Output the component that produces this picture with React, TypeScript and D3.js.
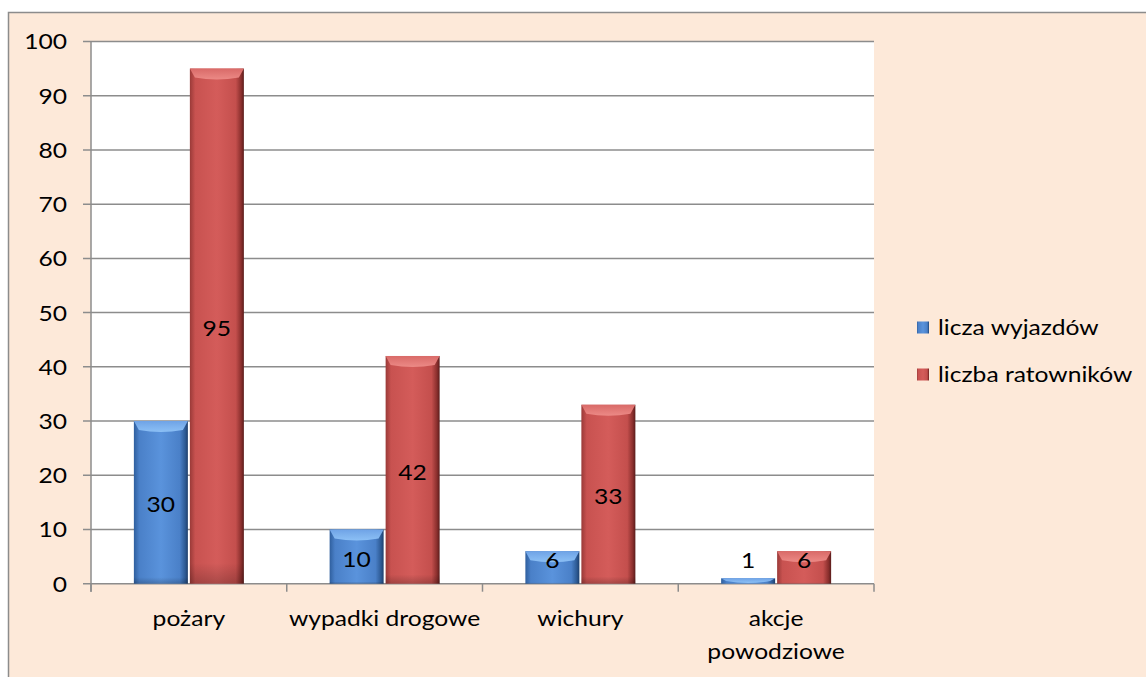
import React from "react";
import * as d3 from "d3";

const categories: string[][] = [["pożary"], ["wypadki drogowe"], ["wichury"], ["akcje", "powodziowe"]];
const seriesNames = ["licza wyjazdów", "liczba ratowników"];
const wyjazdy = [30, 10, 6, 1];
const ratownicy = [95, 42, 33, 6];
const yTicks = [0, 10, 20, 30, 40, 50, 60, 70, 80, 90, 100];

const W = 1146;
const H = 677;
const FONT = "Lato, 'Open Sans', sans-serif";
const FS = 22;
const SX = 1.12;

function T({ x, y, anchor = "start", children }: { x: number; y: number; anchor?: string; children: React.ReactNode }) {
  return (
    <text
      transform={`translate(${x},${y}) scale(${SX},1)`}
      dy="0.36em"
      textAnchor={anchor}
      fontFamily={FONT}
      fontSize={FS}
      fill="#000"
    >
      {children}
    </text>
  );
}

export default function App() {
  const left = 91, right = 874, top = 41.5, bottom = 583.7;
  const x = d3.scaleBand<number>().domain(d3.range(categories.length)).range([left, right]);
  const y = d3.scaleLinear().domain([0, 100]).range([bottom, top]);
  const barW = 54;
  const series = [
    { name: seriesNames[0], values: wyjazdy, id: "b" },
    { name: seriesNames[1], values: ratownicy, id: "r" },
  ];
  const grid = "#8c8c8c";

  const bar = (xs: number, v: number, id: string, key: string) => {
    const yt = y(v);
    const h = bottom - yt;
    const bev = Math.min(9, h / 2);
    const sw = Math.min(5, barW / 6);
    return (
      <g key={key}>
        <rect x={xs} y={yt} width={barW} height={h} fill={`url(#${id}Body)`} />
        <rect x={xs} y={yt} width={barW} height={h} fill={`url(#${id}Vert)`} />
        {h > 3 && (
          <path
            d={`M${xs},${yt} L${xs + barW},${yt} L${xs + barW - sw},${yt + bev} Q${xs + barW / 2},${yt + bev + 4} ${xs + sw},${yt + bev} Z`}
            fill={`url(#${id}Top)`}
          />
        )}
      </g>
    );
  };

  return (
    <div style={{ position: "fixed", left: 0, top: 0 }}>
      <svg width={W} height={H} style={{ display: "block" }}>
        <defs>
          <linearGradient id="bBody" x1="0" x2="1" y1="0" y2="0">
            <stop offset="0" stopColor="#2f5f9e" />
            <stop offset="0.1" stopColor="#4a80c8" />
            <stop offset="0.5" stopColor="#5a93dc" />
            <stop offset="0.85" stopColor="#4a80c8" />
            <stop offset="0.95" stopColor="#2d5a94" />
            <stop offset="1" stopColor="#1e3f6c" />
          </linearGradient>
          <linearGradient id="rBody" x1="0" x2="1" y1="0" y2="0">
            <stop offset="0" stopColor="#9a3a38" />
            <stop offset="0.1" stopColor="#c85250" />
            <stop offset="0.5" stopColor="#d45c5a" />
            <stop offset="0.85" stopColor="#c44f4d" />
            <stop offset="0.95" stopColor="#8a2f2d" />
            <stop offset="1" stopColor="#5a1c1b" />
          </linearGradient>
          <linearGradient id="bVert" x1="0" x2="0" y1="0" y2="1">
            <stop offset="0" stopColor="#000" stopOpacity="0" />
            <stop offset="0.96" stopColor="#000" stopOpacity="0" />
            <stop offset="1" stopColor="#000" stopOpacity="0.2" />
          </linearGradient>
          <linearGradient id="rVert" x1="0" x2="0" y1="0" y2="1">
            <stop offset="0" stopColor="#000" stopOpacity="0" />
            <stop offset="0.96" stopColor="#000" stopOpacity="0" />
            <stop offset="1" stopColor="#000" stopOpacity="0.2" />
          </linearGradient>
          <linearGradient id="bTop" x1="0" x2="0" y1="0" y2="1">
            <stop offset="0" stopColor="#6fa3e6" />
            <stop offset="1" stopColor="#8cc0f5" />
          </linearGradient>
          <linearGradient id="rTop" x1="0" x2="0" y1="0" y2="1">
            <stop offset="0" stopColor="#d96a68" />
            <stop offset="1" stopColor="#ec8a86" />
          </linearGradient>
        </defs>
        <rect x={0} y={0} width={W} height={H} fill="#ffffff" />
        <rect x={8.5} y={12.5} width={W + 20} height={H + 20} fill="#fde9d9" stroke={grid} strokeWidth={1.5} />
        <rect x={left} y={top} width={right - left} height={bottom - top} fill="#ffffff" />
        {yTicks.map((t) => (
          <g key={t}>
            <line x1={left - 8} x2={right} y1={y(t)} y2={y(t)} stroke={grid} strokeWidth={1.5} />
            <T x={67} y={y(t)} anchor="end">{t}</T>
          </g>
        ))}
        <line x1={left} x2={left} y1={top} y2={bottom + 8} stroke={grid} strokeWidth={1.5} />
        {d3.range(categories.length + 1).map((i) => {
          const xx = left + i * x.bandwidth();
          return <line key={i} x1={xx} x2={xx} y1={bottom} y2={bottom + 8} stroke={grid} strokeWidth={1.5} />;
        })}
        {categories.map((c, i) => {
          const cx = (x(i) as number) + x.bandwidth() / 2;
          return (
            <g key={i}>
              {series.map((s, k) => {
                const xs = k === 0 ? cx - barW - 1 : cx + 1;
                return bar(xs, s.values[i], s.id, `${i}-${k}`);
              })}
            </g>
          );
        })}
        {categories.map((c, i) => {
          const cx = (x(i) as number) + x.bandwidth() / 2;
          return series.map((s, k) => {
            const xs = k === 0 ? cx - barW - 1 : cx + 1;
            const v = s.values[i];
            const ly = Math.min((y(v) + bottom) / 2, bottom - 25.5);
            return (
              <T key={`l${i}-${k}`} x={xs + barW / 2} y={ly + 2} anchor="middle">{v}</T>
            );
          });
        })}
        {categories.map((c, i) => {
          const cx = (x(i) as number) + x.bandwidth() / 2;
          return c.map((line, j) => (
            <T key={`c${i}-${j}`} x={cx} y={618 + j * 33} anchor="middle">{line}</T>
          ));
        })}
        {series.map((s, k) => {
          const ly = 327.5 + k * 47;
          return (
            <g key={s.id}>
              <rect x={917} y={ly - 6} width={12} height={12} fill={`url(#${s.id}Body)`} />
              <T x={938} y={ly}>{s.name}</T>
            </g>
          );
        })}
      </svg>
    </div>
  );
}
